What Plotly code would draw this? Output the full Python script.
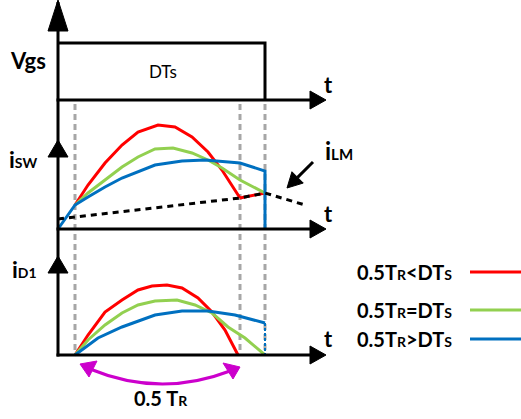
import plotly.graph_objects as go

# ---------------- data (x in drawing units, values measured up from each panel's baseline)
X_ORIGIN = 58
T_AXIS_END = 326
T_DTS = 265          # end of DTs pulse
T_START = 75         # start of resonance
T_HALF_TR = 240      # 0.5 TR (red case)
GUIDE_T = [75, 240, 265]

BASE_VGS, BASE_ISW, BASE_ID1 = 100, 229, 355
VGS_HIGH = 57

ilm_t = [58, 240, 265, 305]
ilm_v = [10, 31, 36, 24]

isw_red_t = [75, 88, 105, 122, 138, 158, 175, 192, 208, 222, 240]
isw_red_v = [24, 44, 66, 84, 97, 104, 102, 92, 77, 59, 31]
isw_red_tail_t = [240, 265]
isw_red_tail_v = [31, 36]
isw_green_t = [75, 88, 105, 122, 138, 155, 173, 192, 208, 222, 240, 265]
isw_green_v = [24, 36, 49, 62, 72, 80, 81, 76, 69, 61, 49, 36]
isw_blue_t = [58, 75, 88, 105, 122, 138, 155, 182, 205, 240, 265, 265]
isw_blue_v = [0, 24, 32, 42, 51, 57, 64, 68, 69, 66, 58, 0]

id1_red_t = [75, 88, 105, 122, 138, 152, 167, 182, 198, 212, 225, 238]
id1_red_v = [0, 20, 43, 55, 65, 69, 70, 67, 57, 43, 25, 0]
id1_green_t = [75, 88, 105, 122, 138, 155, 177, 195, 212, 228, 245, 265]
id1_green_v = [0, 15, 30, 42, 50, 54, 55, 50, 42, 28, 17, 0]
id1_blue_t = [75, 98, 122, 155, 182, 208, 235, 265]
id1_blue_v = [0, 17, 28, 40, 44, 44, 40, 32]

legend_labels = ["0.5T<span style='font-size:14px'>R</span>&lt;DT<span style='font-size:14px'>S</span>",
                 "0.5T<span style='font-size:14px'>R</span>=DT<span style='font-size:14px'>S</span>",
                 "0.5T<span style='font-size:14px'>R</span>&gt;DT<span style='font-size:14px'>S</span>"]
legend_y = [272, 310, 339]

RED, GREEN, BLUE = "#FF0000", "#92D050", "#0070C0"
MAGENTA = "#CC00CC"
GRAY = "#A6A6A6"
FONT = "Lato"

fig = go.Figure()


def curve(t, v, base, color, width=3, dash=None):
    fig.add_trace(go.Scatter(x=t, y=[base - a for a in v], mode="lines",
                             line=dict(color=color, width=width, dash=dash),
                             hoverinfo="skip", showlegend=False))


# guides
shapes = []
for gx in GUIDE_T:
    shapes.append(dict(type="line", x0=gx, x1=gx, y0=BASE_VGS + 4, y1=BASE_ID1,
                       line=dict(color=GRAY, width=3, dash="6px,4px"), layer="below"))

# isw curves
curve(isw_red_t, isw_red_v, BASE_ISW, RED)
curve(isw_red_tail_t, isw_red_tail_v, BASE_ISW, RED)
curve(isw_green_t, isw_green_v, BASE_ISW, GREEN)
curve(isw_blue_t, isw_blue_v, BASE_ISW, BLUE)
curve(ilm_t, ilm_v, BASE_ISW, "black", width=3, dash="6px,5px")

# iD1 curves
curve(id1_red_t, id1_red_v, BASE_ID1, RED)
curve(id1_green_t, id1_green_v, BASE_ID1, GREEN)
curve(id1_blue_t, id1_blue_v, BASE_ID1, BLUE)
curve([id1_blue_t[-1], id1_blue_t[-1]], [id1_blue_v[-1], 0], BASE_ID1, BLUE, width=2, dash="3px,2px")

# Vgs pulse
curve([X_ORIGIN, T_DTS, T_DTS], [VGS_HIGH, VGS_HIGH, 0], BASE_VGS, "black", width=3)


def tri(p1, p2, p3, color):
    return dict(type="path", path=f"M {p1[0]} {p1[1]} L {p2[0]} {p2[1]} L {p3[0]} {p3[1]} Z",
                fillcolor=color, line=dict(color=color, width=1), layer="above")


# axes
shapes.append(dict(type="line", x0=X_ORIGIN, x1=X_ORIGIN, y0=2, y1=BASE_ID1 + 1.5,
                   line=dict(color="black", width=3), layer="above"))
shapes.append(tri((X_ORIGIN, 0), (X_ORIGIN - 10, 31), (X_ORIGIN + 10, 31), "black"))
shapes.append(tri((X_ORIGIN, 140), (X_ORIGIN - 10, 157), (X_ORIGIN + 10, 157), "black"))
shapes.append(tri((X_ORIGIN, 256), (X_ORIGIN - 10, 273), (X_ORIGIN + 10, 273), "black"))
for b in [BASE_VGS, BASE_ISW, BASE_ID1]:
    shapes.append(dict(type="line", x0=X_ORIGIN - 1.5, x1=T_AXIS_END - 10, y0=b, y1=b,
                       line=dict(color="black", width=3), layer="above"))
    shapes.append(tri((T_AXIS_END, b), (T_AXIS_END - 16, b - 9), (T_AXIS_END - 16, b + 9), "black"))

# iLM pointer arrow
a0, a1 = (313, 162), (287, 188)
dx, dy = a1[0] - a0[0], a1[1] - a0[1]
L = (dx * dx + dy * dy) ** 0.5
ux, uy = dx / L, dy / L
hl, hw = 15, 8
bx, by = a1[0] - ux * hl, a1[1] - uy * hl
shapes.append(dict(type="line", x0=a0[0], y0=a0[1], x1=bx, y1=by, line=dict(color="black", width=3)))
shapes.append(tri(a1, (bx - uy * hw, by + ux * hw), (bx + uy * hw, by - ux * hw), "black"))

# 0.5 TR magenta curved arrow
pL, pR = (80, 364), (240, 367)
shapes.append(dict(type="path", path=f"M {pL[0]+10} {pL[1]+5} Q 160 398 {pR[0]-10} {pR[1]+4}",
                   line=dict(color=MAGENTA, width=3)))
shapes.append(tri(pL, (pL[0] + 17, pL[1] - 3), (pL[0] + 9, pL[1] + 13), MAGENTA))
shapes.append(tri(pR, (pR[0] - 17, pR[1] - 4), (pR[0] - 7, pR[1] + 12), MAGENTA))

# legend lines
for yl, c in zip(legend_y, [RED, GREEN, BLUE]):
    shapes.append(dict(type="line", x0=470, x1=521, y0=yl, y1=yl, line=dict(color=c, width=3)))

ann = []


def text(x, y, s, size, xanchor="center", bold=True):
    ann.append(dict(x=x, y=y, text=f"<b>{s}</b>" if bold else s, showarrow=False,
                    xanchor=xanchor, yanchor="middle",
                    font=dict(family=FONT, size=size, color="black")))


text(28, 60, "Vgs", 22)
text(163, 71, "DTs", 17, bold=False)
for yt in [84, 213, 338]:
    text(328, yt, "t", 22)
text(23, 159, "i<span style='font-size:14px'>SW</span>", 23)
text(24, 269, "i<span style='font-size:14px'>D1</span>", 23)
text(339, 150, "i<span style='font-size:15px'>LM</span>", 24)
for yl, s in zip(legend_y, legend_labels):
    text(355, yl, s, 20, xanchor="left")
text(161, 398, "0.5 T<span style='font-size:14px'>R</span>", 20)

fig.update_layout(width=521, height=419, margin=dict(l=0, r=0, t=0, b=0),
                  paper_bgcolor="white", plot_bgcolor="white", autosize=False,
                  xaxis=dict(range=[0, 521], visible=False, fixedrange=True),
                  yaxis=dict(range=[419, 0], visible=False, fixedrange=True),
                  shapes=shapes, annotations=ann, showlegend=False)
fig.write_html("out.html", config={"displayModeBar": False})
